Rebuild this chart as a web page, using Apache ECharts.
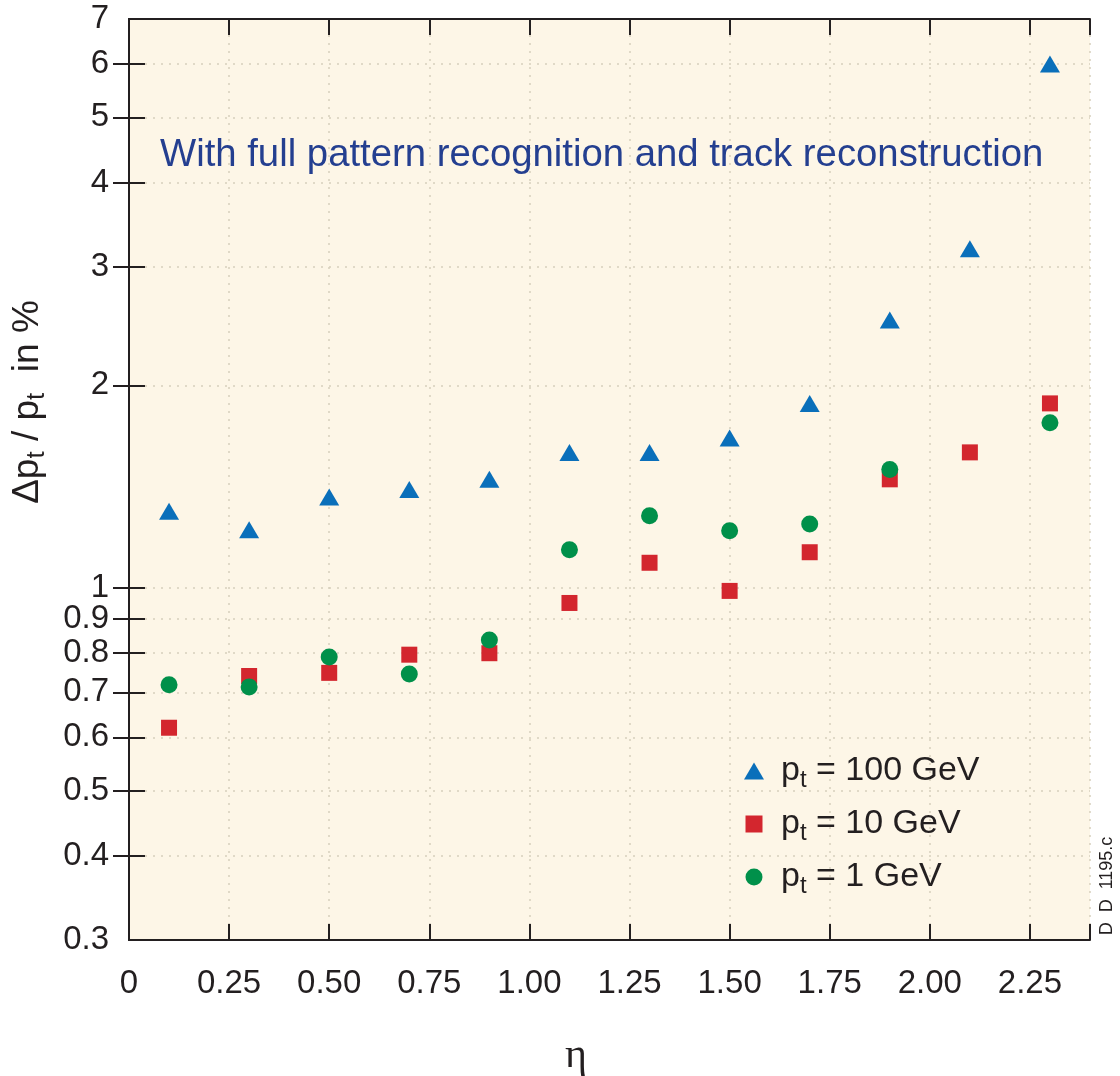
<!DOCTYPE html>
<html>
<head>
<meta charset="utf-8">
<script src="https://cdn.jsdelivr.net/npm/echarts@6/dist/echarts.min.js"></script>
<style>
html,body{margin:0;padding:0;background:#fff;}
#chart{width:1120px;height:1076px;}
</style>
</head>
<body>
<div id="chart"></div>
<script>
// ---- data ----
const eta = [0.1, 0.3, 0.5, 0.7, 0.9, 1.1, 1.3, 1.5, 1.7, 1.9, 2.1, 2.3];
const pt100 = [1.30, 1.22, 1.365, 1.40, 1.45, 1.59, 1.59, 1.67, 1.88, 2.50, 3.19, 6.0];
const pt10  = [0.62, 0.74, 0.748, 0.796, 0.80, 0.95, 1.09, 0.99, 1.13, 1.45, 1.59, 1.88];
const pt1   = [0.718, 0.713, 0.79, 0.745, 0.837, 1.14, 1.28, 1.216, 1.245, 1.50, null, 1.76];
const yTickValues = [0.3, 0.4, 0.5, 0.6, 0.7, 0.8, 0.9, 1, 2, 3, 4, 5, 6, 7];
const yInnerValues = [0.4, 0.5, 0.6, 0.7, 0.8, 0.9, 1, 2, 3, 4, 5, 6];
const seriesNames = ['p100', 'p10', 'p1'];
const legendLabels = {p100: '100 GeV', p10: '10 GeV', p1: '1 GeV'};
const titleText = 'With full pattern recognition and track reconstruction';

const FONT = '"Liberation Sans", Arial, sans-serif';
const INK = '#231f20';
const pairs = (ys) => eta.map((x, i) => [x, ys[i]]).filter(p => p[1] != null);

const chart = echarts.init(document.getElementById('chart'), null, {renderer: 'canvas'});

const xFmt = (v) => {
  const k = v / 0.25;
  if (Math.abs(k - Math.round(k)) > 1e-6) return '';
  return v === 0 ? '0' : v.toFixed(2);
};
const yFmt = (v) => {
  const r = Math.round(v * 10) / 10;
  return String(r);
};
const splitStyle = {color: '#d6d0bd', width: 1.5, type: [2, 6]};

const option = {
  backgroundColor: '#ffffff',
  animation: false,
  grid: {
    left: 129, top: 19, right: 30, bottom: 136,
    show: true, backgroundColor: '#fdf6e7', borderWidth: 0
  },
  xAxis: [
    {
      type: 'value', min: 0, max: 2.4, interval: 0.25, position: 'bottom',
      axisLine: {show: true, lineStyle: {color: INK, width: 2}},
      axisTick: {show: true, inside: true, length: 16, lineStyle: {color: INK, width: 2}},
      axisLabel: {show: true, formatter: xFmt, margin: 27, color: INK, fontSize: 33, fontFamily: FONT},
      splitLine: {show: true, lineStyle: splitStyle}
    },
    {
      type: 'value', min: 0, max: 2.4, interval: 0.25, position: 'top',
      axisLine: {show: true, lineStyle: {color: INK, width: 2}},
      axisTick: {show: true, inside: true, length: 16, lineStyle: {color: INK, width: 2}},
      axisLabel: {show: false},
      splitLine: {show: false}
    }
  ],
  yAxis: [
    {
      type: 'log', logBase: 10, min: 0.3, max: 7, position: 'left',
      axisLine: {show: true, lineStyle: {color: INK, width: 2}},
      axisTick: {show: true, inside: true, length: 16, customValues: yInnerValues, lineStyle: {color: INK, width: 2}},
      axisLabel: {show: true, customValues: yTickValues, formatter: yFmt, margin: 20, color: INK, fontSize: 33, fontFamily: FONT},
      splitLine: {show: true, customValues: yInnerValues, lineStyle: splitStyle},
      minorTick: {show: false}, minorSplitLine: {show: false}
    },
    {
      type: 'log', logBase: 10, min: 0.3, max: 7, position: 'right',
      axisLine: {show: true, lineStyle: {color: INK, width: 2}},
      axisTick: {show: true, inside: true, length: 16, customValues: yInnerValues, lineStyle: {color: INK, width: 2}},
      axisLabel: {show: false},
      splitLine: {show: false}
    }
  ],
  legend: {
    orient: 'vertical', left: 739, top: 749,
    itemWidth: 20, itemHeight: 17, itemGap: 15,
    symbolKeepAspect: true,
    data: [
      {name: 'p100', icon: 'triangle'},
      {name: 'p10', icon: 'path://M0,0H16V16H0Z'},
      {name: 'p1', icon: 'circle'}
    ],
    formatter: (name) => '{p|p}{s|t}{n| = ' + legendLabels[name] + '}',
    textStyle: {
      color: INK, fontFamily: FONT, fontSize: 34,
      rich: {
        p: {fontSize: 34, fontFamily: FONT, color: INK, padding: [0, 0, 0, 12]},
        s: {fontSize: 24, fontFamily: FONT, color: INK, padding: [18, 0, 0, 0]},
        n: {fontSize: 34, fontFamily: FONT, color: INK}
      }
    }
  },
  series: [
    {name: 'p100', type: 'scatter', symbol: 'triangle', symbolSize: [20, 17],
     itemStyle: {color: '#0a6fba', opacity: 1}, data: pairs(pt100), z: 3},
    {name: 'p10', type: 'scatter', symbol: 'rect', symbolSize: 16,
     itemStyle: {color: '#d3262e', opacity: 1}, data: pairs(pt10), z: 4},
    {name: 'p1', type: 'scatter', symbol: 'circle', symbolSize: 17,
     itemStyle: {color: '#00904a', opacity: 1}, data: pairs(pt1), z: 5}
  ],
  graphic: [
    {
      type: 'text', left: 160, top: 136, z: 10,
      style: {text: titleText, fill: '#243f90', font: '38.3px ' + FONT}
    },
    {
      type: 'text', x: 28, y: 402, rotation: Math.PI / 2, z: 10,
      style: {
        text: '{n|Δp}{s|t}{n| / p}{s|t}{n|  in %}',
        fill: INK, align: 'center', verticalAlign: 'middle',
        rich: {
          n: {fontSize: 37, fontFamily: FONT, fill: INK},
          s: {fontSize: 26, fontFamily: FONT, fill: INK, padding: [18, 0, 0, 0]}
        }
      }
    },
    {
      type: 'text', x: 576, y: 1056, z: 10,
      style: {text: 'η', fill: INK, font: '42px "Liberation Serif", serif', align: 'center', verticalAlign: 'middle'}
    },
    {
      type: 'text', x: 1107, y: 886, rotation: Math.PI / 2, z: 10,
      style: {text: 'D  D  1195.c', fill: INK, font: '18px ' + FONT, align: 'center', verticalAlign: 'middle'}
    }
  ]
};
chart.setOption(option);
</script>
</body>
</html>
